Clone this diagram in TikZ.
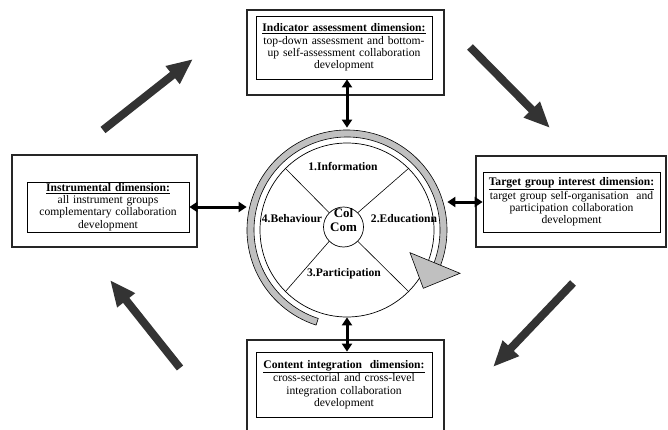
\documentclass[tikz,border=0pt]{standalone}
\usepackage{fontspec}
\setmainfont{Liberation Serif}
\usetikzlibrary{arrows.meta, positioning}
\definecolor{cArrow}{RGB}{51,51,51}
\definecolor{cRing}{RGB}{192,192,192}
\newcommand{\boxfont}{\fontsize{11.6}{12.2}\selectfont}
\tikzset{
	outerbox/.style ={rectangle, draw=black!85, line width=1.1pt, inner sep=0pt},
	innerbox/.style ={rectangle, draw=black, line width=0.8pt, align=center, inner sep=1pt, font=\boxfont},
	wheellabel/.style={font=\boxfont\bfseries, inner sep=0pt},
	spoke/.style    ={line width=0.6pt},
	% connectors
	linkarrow/.style={{Triangle[length=8pt,width=10pt]}-{Triangle[length=8pt,width=10pt]}, line width=3pt},
	flowarrow/.style={-{Triangle[length=26pt,width=21pt]}, line width=8pt, cArrow},
}

\begin{document}
\begin{tikzpicture}[x=1pt, y=1pt]
	\useasboundingbox (0,0) rectangle (668,429);
	% dimension boxes
	\node[outerbox, minimum width=197pt, minimum height=85pt] (tout) at (345.5,376.5) {};
	\node[outerbox, minimum width=185pt, minimum height=92pt] (lout) at (104.5,228) {};
	\node[outerbox, minimum width=190pt, minimum height=91pt] (rout) at (571,227.5) {};
	\node[outerbox, minimum width=197pt, minimum height=100pt] (bout) at (345.5,39) {};
	\node[innerbox, minimum width=176pt, minimum height=63pt, text width=172pt] (tin) at (344,381.5)
		{\underline{\textbf{Indicator assessment dimension:}}\\ top-down assessment and bottom-\\ up self-assessment collaboration\\ development};
	\node[innerbox, minimum width=162pt, minimum height=50pt, text width=158pt] (lin) at (108,222)
		{\underline{\textbf{Instrumental dimension:}}\\ all instrument groups\\ complementary collaboration\\ development};
	\node[innerbox, minimum width=177pt, minimum height=60pt, text width=174pt] (rin) at (571.5,227)
		{\underline{\textbf{Target group interest dimension:}}\\ target group self-organisation\ \ and\\ participation collaboration\\ development};
	\node[innerbox, minimum width=176pt, minimum height=65pt, text width=172pt] (bin) at (344,44.5)
		{\underline{\textbf{Content integration\ \ dimension:}}\\ cross-sectorial and cross-level\\ integration collaboration\\ development};
	% wheel
	\coordinate (c) at (347,199);
	\filldraw[fill=cRing, draw=black, line width=0.6pt] ([shift={(252:100)}]c) arc[start angle=252, end angle=-22, radius=100]
		-- ([shift={(-22:93)}]c) arc[start angle=-22, end angle=252, radius=93] -- cycle;
	\node[circle, draw, line width=0.7pt, fill=white, minimum size=174pt, inner sep=0pt] (wheel) at (c) {};
	\node[circle, draw, line width=0.7pt, minimum size=40pt, inner sep=0pt] (hub) at (343.5,202) {};
	\foreach \a in {45,135,225,315} \draw[spoke] (hub.\a) -- (wheel.\a);
	\node[wheellabel, font=\fontsize{13}{14}\selectfont\bfseries, align=center] (colcom) at (343.5,209) {Col\\Com};
	\node[wheellabel] (info) at (343,263) {1.Information};
	\node[wheellabel] (edu) at (404,210) {2.Educationn};
	\node[wheellabel] (part) at (344,155) {3.Participation};
	\node[wheellabel] (behav) at (292,210) {4.Behaviour};
	\filldraw[fill=cRing, draw=black, line width=0.6pt] (410,176.3) -- (460,155.7) -- (423.3,140.7) -- cycle;
	% links between wheel and boxes
	\draw[linkarrow] (tin.south -| wheel.north) -- ([yshift=15pt]wheel.north);
	\draw[linkarrow] (lin.east) -- ([xshift=-13pt]wheel.west |- lin.east);
	\draw[linkarrow] ([xshift=13pt]wheel.east |- rin.west) -- (rin.west);
	\draw[linkarrow] (wheel.south) -- (bin.north -| wheel.south);
	% cycle arrows
	\coordinate (ulTail) at (103,299);  \coordinate (ulTip) at (193,370);
	\coordinate (urTail) at (470,382);  \coordinate (urTip) at (550,301);
	\coordinate (lrTail) at (573,146);  \coordinate (lrTip) at (493,62);
	\coordinate (llTail) at (180,61);   \coordinate (llTip) at (110,149);
	\draw[flowarrow] (ulTail) -- (ulTip);
	\draw[flowarrow] (urTail) -- (urTip);
	\draw[flowarrow] (lrTail) -- (lrTip);
	\draw[flowarrow] (llTail) -- (llTip);
\end{tikzpicture}
\end{document}
